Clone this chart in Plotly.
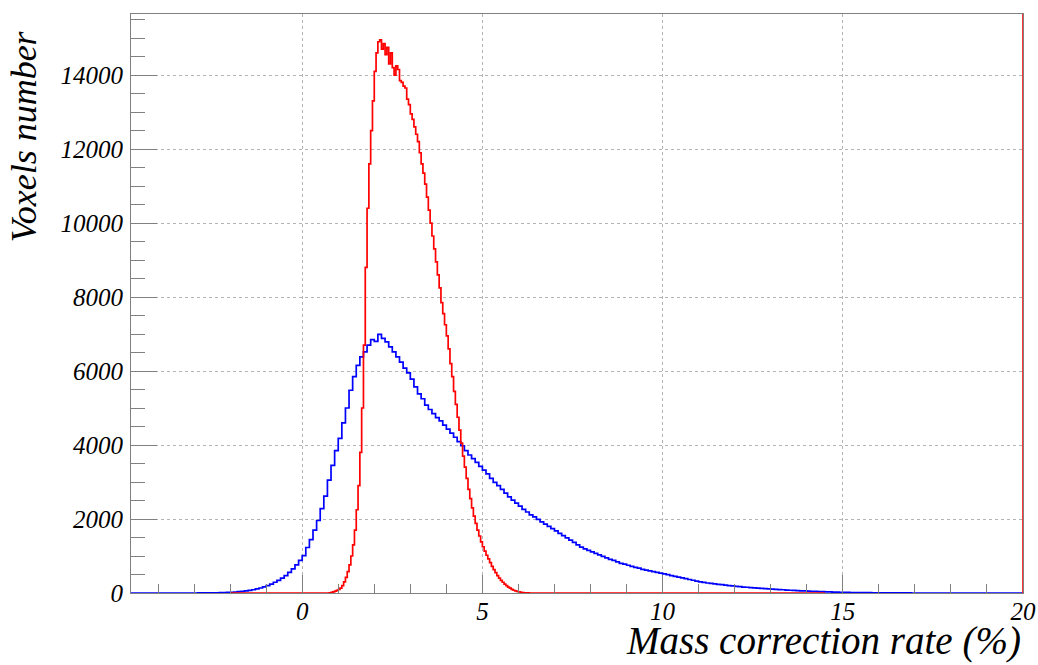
import plotly.graph_objects as go

# ---------------- data ----------------
X_RANGE = [-4.75, 20.0]
Y_RANGE = [0, 15650]

BLUE_START = -3.0
BLUE_WIDTH = 0.1
BLUE_SPAN = [-4.75, 20.0]
BLUE_VALUES = [
    0, 1, 2, 3, 4, 5, 7, 9, 12, 16,
    20, 27, 35, 45, 58, 72, 88, 110, 135, 165,
    200, 240, 290, 340, 400, 470, 560, 650, 760, 880,
    1010, 1230, 1440, 1700, 1960, 2280, 2620, 3050, 3450, 3850,
    4180, 4600, 5000, 5480, 5850, 6150, 6380, 6520, 6700, 6850,
    6800, 6990, 6880, 6790, 6650, 6520, 6380, 6240, 6080, 5950,
    5780, 5570, 5380, 5250, 5080, 4960, 4850, 4740, 4650, 4540,
    4430, 4320, 4210, 4090, 3980, 3850, 3730, 3630, 3530, 3420,
    3320, 3220, 3100, 2990, 2900, 2800, 2700, 2600, 2510, 2430,
    2350, 2260, 2190, 2110, 2060, 1990, 1920, 1860, 1800, 1740,
    1680, 1610, 1550, 1490, 1430, 1370, 1300, 1240, 1190, 1150,
    1110, 1070, 1030, 990, 950, 910, 880, 840, 800, 780,
    750, 720, 690, 670, 640, 620, 600, 580, 555, 535,
    515, 495, 470, 450, 430, 410, 390, 365, 345, 320,
    300, 285, 270, 260, 245, 235, 225, 215, 200, 190,
    180, 170, 160, 155, 145, 140, 130, 125, 118, 110,
    105, 98, 92, 88, 80, 75, 70, 65, 60, 55,
    50, 45, 42, 38, 35, 32, 28, 25, 22, 20,
    18, 16, 14, 12, 11, 10, 9, 8, 7, 6,
    5, 5, 4, 3, 3, 2, 2, 1, 1, 0,
]

RED_START = 0.70
RED_WIDTH = 0.05
RED_SPAN = [-2.0, 14.5]
RED_VALUES = [
    0, 5, 15, 30, 50, 70, 95, 130, 200, 300,
    420, 580, 760, 1000, 1300, 1700, 2250, 2900, 3800, 5000,
    6700, 8800, 10400, 11600, 12500, 13300, 14100, 14600, 14900, 14950,
    14700, 14850, 14550, 14750, 14300, 14600, 14200, 14000, 14250, 14150,
    13850, 13800, 13700, 13650, 13350, 13200, 12950, 12800, 12600, 12400,
    12200, 11900, 11600, 11350, 11050, 10700, 10350, 10000, 9650, 9300,
    8950, 8600, 8250, 7850, 7550, 7250, 6950, 6600, 6200, 5850,
    5450, 5100, 4750, 4400, 4050, 3700, 3400, 3100, 2800, 2550,
    2300, 2080, 1880, 1700, 1540, 1380, 1250, 1130, 1020, 920,
    820, 720, 630, 550, 470, 400, 340, 290, 240, 200,
    160, 130, 100, 75, 55, 40, 28, 18, 10, 6,
    3, 1, 0,
]

X_TICKS = [0, 5, 10, 15, 20]
X_TITLE = "Mass correction rate (%)"
Y_TITLE = "Voxels number"


def step_xy(start, width, values, span):
    edges = [start + i * width for i in range(len(values) + 1)]
    xs = [span[0]] + edges[:-1] + [edges[-1], span[1]]
    ys = [0] + list(values) + [0, 0]
    return xs, ys


bx, by = step_xy(BLUE_START, BLUE_WIDTH, BLUE_VALUES, BLUE_SPAN)
rx, ry = step_xy(RED_START, RED_WIDTH, RED_VALUES, RED_SPAN)

FONT = "Liberation Serif"
AX = "#808080"
GRID = "#b4b4b4"

fig = go.Figure()
fig.add_trace(go.Scatter(x=bx, y=by, mode="lines", line=dict(color="#0000ff", width=1.7, shape="hv"),
                         showlegend=False, hoverinfo="skip"))
fig.add_trace(go.Scatter(x=rx, y=ry, mode="lines", line=dict(color="#ff0000", width=1.7, shape="hv"),
                         showlegend=False, hoverinfo="skip"))

fig.update_layout(
    width=1038, height=665,
    margin=dict(l=131, r=15, t=14, b=72),
    paper_bgcolor="white", plot_bgcolor="white",
    font=dict(family=FONT, color="black"),
    xaxis=dict(
        range=X_RANGE, tickvals=X_TICKS, ticktext=[str(v) for v in X_TICKS],
        ticks="inside", ticklen=18, tickcolor=AX, tickwidth=1,
        tickfont=dict(family=FONT, size=25, style="italic", color="black"),
        showgrid=True, gridcolor=GRID, griddash="dot", gridwidth=1,
        showline=True, linecolor=AX, linewidth=1.2, mirror=True,
        zeroline=False, ticklabelstandoff=-4, automargin=False,
        minor=dict(ticks="inside", ticklen=9, dtick=1, tick0=0, tickcolor=AX, showgrid=False),
    ),
    yaxis=dict(
        range=Y_RANGE, dtick=2000, tick0=0, tickformat="d",
        ticks="inside", ticklen=26, tickcolor=AX, tickwidth=1,
        tickfont=dict(family=FONT, size=25, style="italic", color="black"),
        showgrid=True, gridcolor=GRID, griddash="dot", gridwidth=1,
        showline=True, linecolor=AX, linewidth=1.2, mirror=True,
        zeroline=False, ticklabelstandoff=2, automargin=False,
        minor=dict(ticks="inside", ticklen=14, dtick=500, tick0=0, tickcolor=AX, showgrid=False),
    ),
    shapes=[dict(type="line", xref="x", yref="paper", x0=X_RANGE[1], x1=X_RANGE[1], y0=0, y1=1,
                 line=dict(color="#ff0000", width=1.6), layer="above")],
    annotations=[
        dict(text=X_TITLE, xref="paper", yref="paper", x=1.0, y=-72 / 579, xanchor="right", yanchor="bottom",
             showarrow=False, font=dict(family=FONT, size=39, style="italic", color="black")),
        dict(text=Y_TITLE, xref="paper", yref="paper", x=-0.119, y=0.975, xanchor="center", yanchor="top",
             textangle=-90, showarrow=False, font=dict(family=FONT, size=36, style="italic", color="black")),
    ],
)

# remove the page's default 8px body margin so the figure fills the window exactly
fig.write_html("out.html", config={"displayModeBar": False},
               post_script="document.body.style.margin='0';document.body.style.overflow='hidden';")
